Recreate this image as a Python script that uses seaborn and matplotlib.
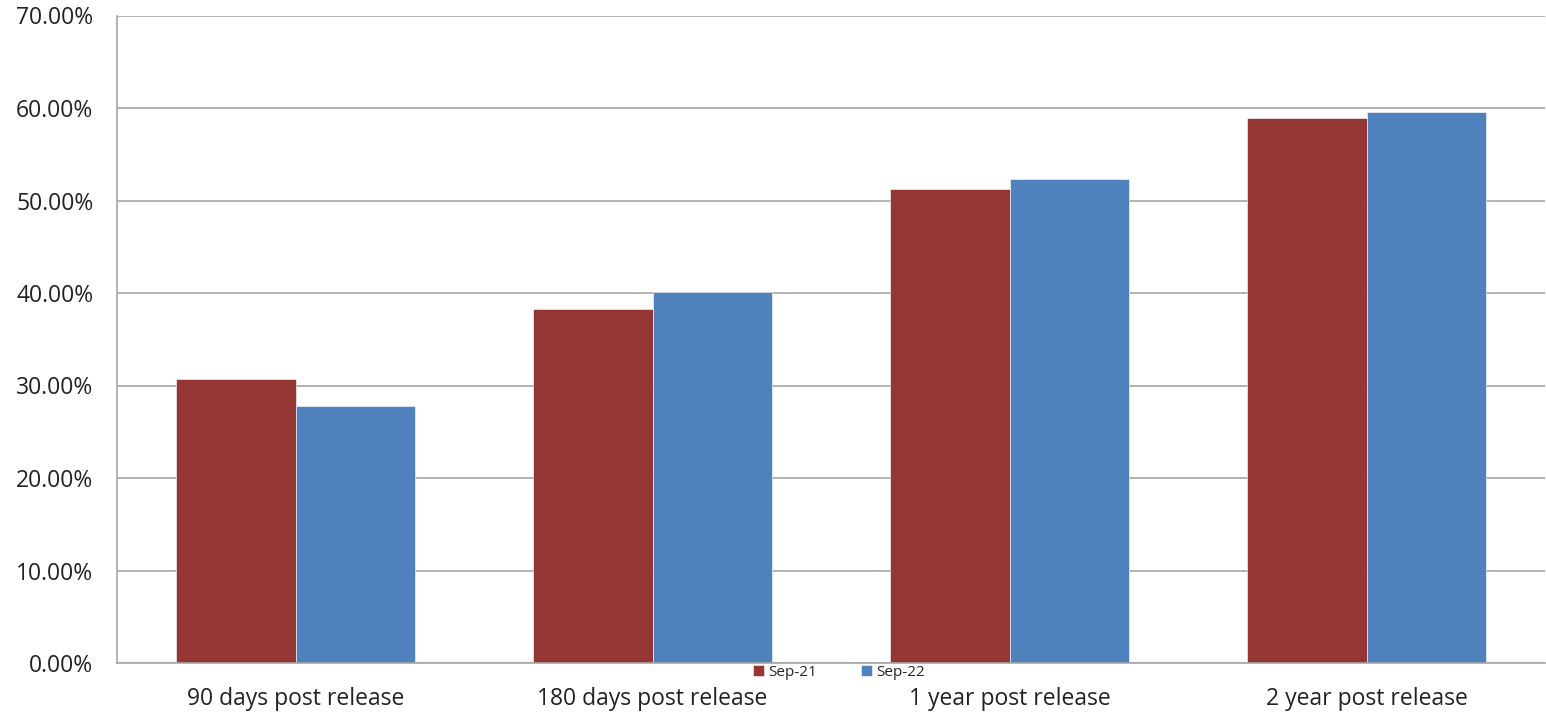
import pandas as pd
import seaborn as sns
import matplotlib.pyplot as plt
from matplotlib.ticker import PercentFormatter

# values (percent)
categories = ['90 days post release', '180 days post release', '1 year post release', '2 year post release']
sep21 = [30.7, 38.3, 51.2, 58.9]
sep22 = [27.8, 40.1, 52.3, 59.6]
series_names = ['Sep-21', 'Sep-22']
y_ticks = [0, 10, 20, 30, 40, 50, 60, 70]

data = pd.DataFrame({
    'Category': categories * 2,
    'Series': [series_names[0]] * len(categories) + [series_names[1]] * len(categories),
    'Value': sep21 + sep22,
})

sns.set_style('white')
plt.rcParams['font.family'] = ['Open Sans', 'DejaVu Sans']

fig = plt.figure(figsize=(15.46, 7.12), dpi=100)
ax = fig.add_axes([117 / 1546, 49 / 712, 1428 / 1546, 647.5 / 712])

sns.barplot(
    data=data,
    x='Category',
    y='Value',
    hue='Series',
    palette=['#943634', '#4F81BD'],
    width=0.667,
    saturation=1,
    edgecolor='white',
    linewidth=0.4,
    ax=ax,
)

ax.set_ylim(0, 70)
ax.set_xlim(-0.5, 3.5)
ax.set_yticks(y_ticks)
ax.yaxis.set_major_formatter(PercentFormatter(decimals=2))
ax.grid(axis='y', color='#A6A6A6', linewidth=1.2)
ax.set_axisbelow(True)
ax.set_xlabel('')
ax.set_ylabel('')
ax.tick_params(axis='both', length=0, labelsize=16.5, colors='#222222')
ax.tick_params(axis='x', pad=17)
ax.tick_params(axis='y', pad=17)

for side in ['top', 'right']:
    ax.spines[side].set_visible(False)
for side in ['left', 'bottom']:
    ax.spines[side].set_color('#A6A6A6')
    ax.spines[side].set_linewidth(1.2)

handles, labels = ax.get_legend_handles_labels()
ax.get_legend().remove()
fig.legend(
    handles, labels,
    loc='center', bbox_to_anchor=(839 / 1546, 40 / 712),
    ncol=2, frameon=False, fontsize=11,
    handlelength=0.7, handleheight=0.7, handletextpad=0.3,
    columnspacing=2.9,
)

fig.savefig('out.png', dpi=100)
